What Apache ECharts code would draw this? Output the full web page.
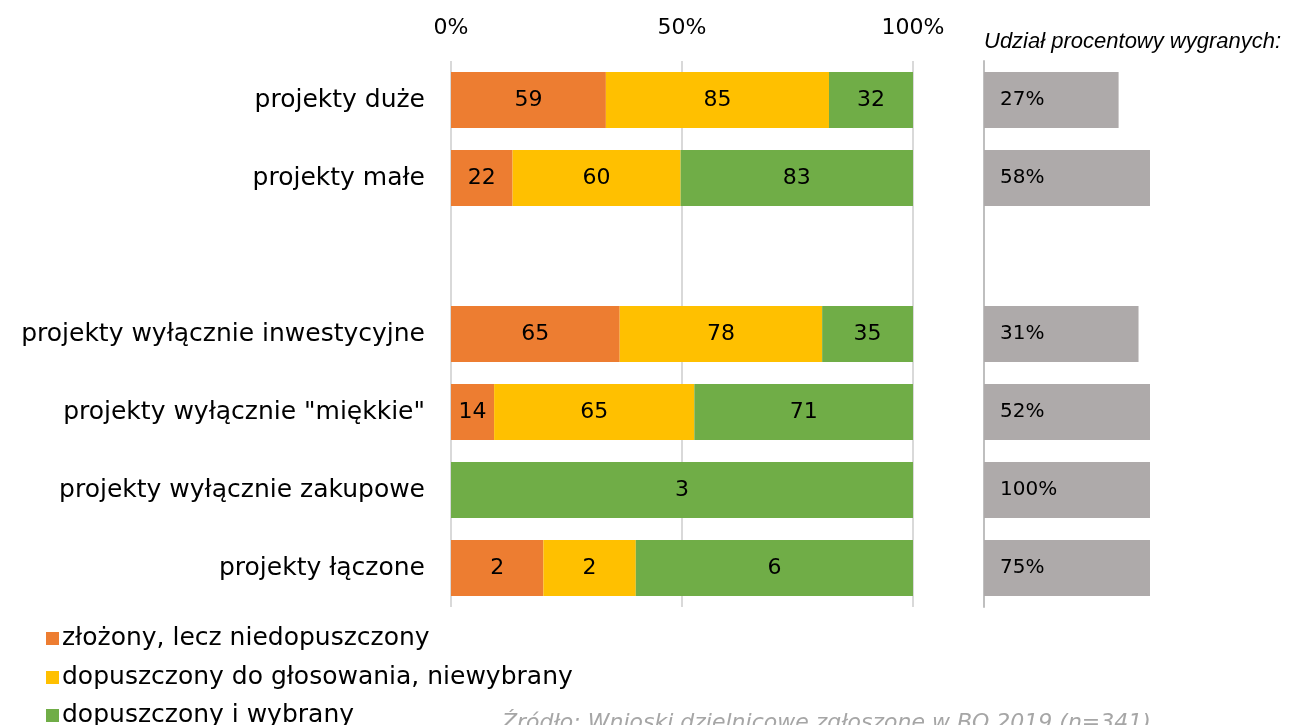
<!DOCTYPE html>
<html>
<head>
<meta charset="utf-8">
<script src="https://cdn.jsdelivr.net/npm/echarts@6/dist/echarts.min.js"></script>
<style>
  html, body { margin: 0; padding: 0; background: #fff; }
  #chart { width: 1296px; height: 725px; }
</style>
</head>
<body>
<div id="chart"></div>
<script>
  // kategorie (pusty wiersz jako przerwa)
  var categories = ['projekty duże', 'projekty małe', '', 'projekty wyłącznie inwestycyjne',
    'projekty wyłącznie "miękkie"', 'projekty wyłącznie zakupowe', 'projekty łączone'];
  var seriesNames = ['złożony, lecz niedopuszczony', 'dopuszczony do głosowania, niewybrany', 'dopuszczony i wybrany'];
  var niedopuszczone = [59, 22, null, 65, 14, 0, 2];
  var niewybrane = [85, 60, null, 78, 65, 0, 2];
  var wybrane = [32, 83, null, 35, 71, 3, 6];
  var udzialWygranych = [27, 58, null, 31, 52, 100, 75];
  var tickLabels = ['0%', '50%', '100%'];
  var colors = ['#ED7D31', '#FFC000', '#70AD47'];

  var FONT = 'DejaVu Sans';
  var counts = [niedopuszczone, niewybrane, wybrane];

  var totals = categories.map(function (c, i) {
    if (wybrane[i] == null) return null;
    return niedopuszczone[i] + niewybrane[i] + wybrane[i];
  });

  var series = counts.map(function (arr, k) {
    return {
      name: seriesNames[k],
      type: 'bar',
      stack: 'total',
      xAxisIndex: 0,
      yAxisIndex: 0,
      barWidth: '72%',
      itemStyle: { color: colors[k] },
      label: {
        show: true,
        position: 'inside',
        color: '#000',
        fontFamily: FONT,
        fontSize: 22,
        formatter: function (p) {
          var v = arr[p.dataIndex];
          return v ? String(v) : '';
        }
      },
      data: arr.map(function (v, i) {
        return v == null ? null : v / totals[i] * 100;
      })
    };
  });

  series.push({
    name: 'udział',
    type: 'bar',
    xAxisIndex: 1,
    yAxisIndex: 1,
    barWidth: '72%',
    itemStyle: { color: '#AEAAAA' },
    label: {
      show: true,
      position: 'insideLeft',
      distance: 16,
      color: '#000',
      fontFamily: FONT,
      fontSize: 20,
      formatter: '{c}%'
    },
    data: udzialWygranych
  });

  // legenda w jednej kolumnie - trzy osobne komponenty
  var legendTops = [621, 660, 698];
  var legends = seriesNames.map(function (n, k) {
    return {
      orient: 'vertical',
      left: 41,
      top: legendTops[k],
      itemWidth: 13,
      itemHeight: 13,
      icon: 'rect',
      data: [n],
      textStyle: { fontFamily: FONT, fontSize: 25, color: '#000', padding: [0, 0, 0, -2] }
    };
  });

  var myChart = echarts.init(document.getElementById('chart'));
  myChart.setOption({
    animation: false,
    textStyle: { fontFamily: FONT },
    title: [{
      text: 'Udział procentowy wygranych:',
      left: 979,
      top: 26,
      textStyle: { fontFamily: 'Liberation Sans', fontStyle: 'italic', fontWeight: 'normal', fontSize: 22, color: '#000' }
    }, {
      text: 'Źródło: Wnioski dzielnicowe zgłoszone w BO 2019 (n=341)',
      left: 497,
      top: 707,
      textStyle: { fontFamily: FONT, fontStyle: 'italic', fontWeight: 'normal', fontSize: 22, color: '#A6A6A6' }
    }],
    legend: legends,
    grid: [
      { left: 451, right: 383, top: 61, height: 546 },
      { left: 984, right: 146, top: 61, height: 546 }
    ],
    xAxis: [{
      type: 'value',
      gridIndex: 0,
      position: 'top',
      min: 0,
      max: 100,
      interval: 50,
      axisLine: { show: false },
      axisTick: { show: false },
      splitLine: { lineStyle: { color: '#D9D9D9', width: 2 } },
      axisLabel: {
        margin: 22,
        fontSize: 22,
        color: '#000',
        fontFamily: FONT,
        formatter: function (v) { return tickLabels[v / 50]; }
      }
    }, {
      type: 'value',
      gridIndex: 1,
      min: 0,
      max: 33.3,
      show: false
    }],
    yAxis: [{
      type: 'category',
      gridIndex: 0,
      inverse: true,
      data: categories,
      axisLine: { show: false },
      axisTick: { show: false },
      axisLabel: { margin: 26, fontSize: 25, color: '#000', fontFamily: FONT }
    }, {
      type: 'category',
      gridIndex: 1,
      inverse: true,
      data: categories,
      axisLine: { show: true, lineStyle: { color: '#BFBFBF', width: 2 } },
      axisTick: { show: false },
      axisLabel: { show: false }
    }],
    series: series
  });
</script>
</body>
</html>
